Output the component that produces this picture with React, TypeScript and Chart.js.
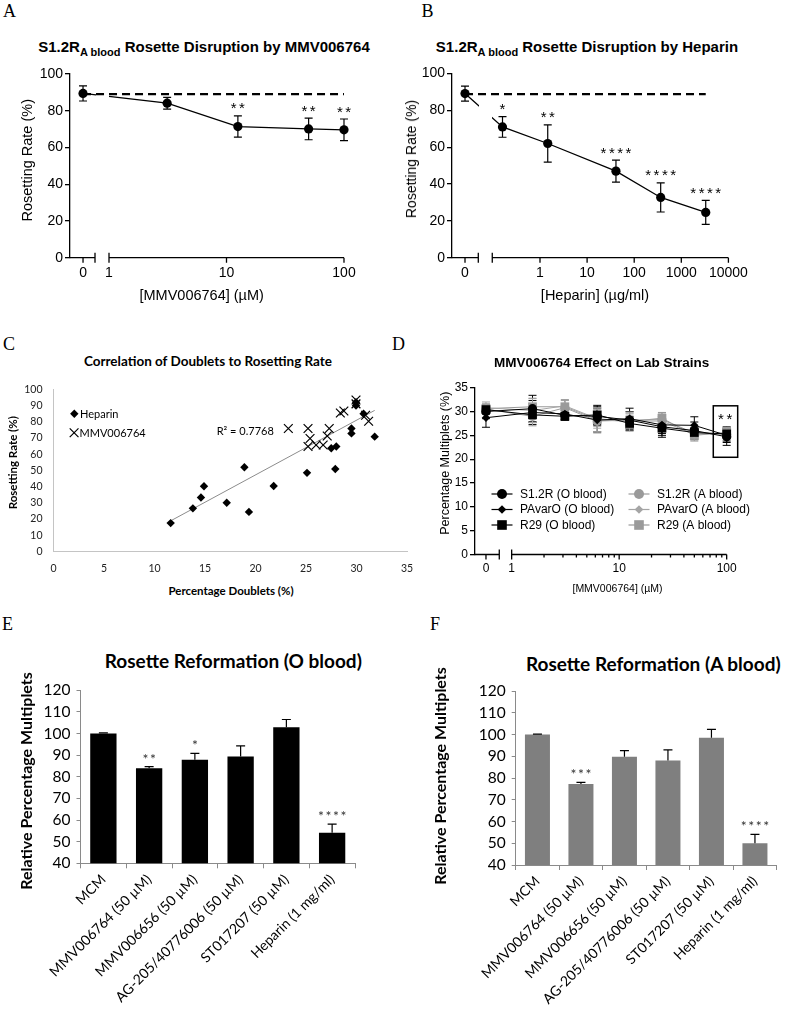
import React, { useEffect, useRef } from 'react';
import { Chart, registerables } from 'chart.js';

Chart.register(...registerables);

const ARIAL = '"Liberation Sans", Arial, sans-serif';
const CALIBRI = 'Lato, "Open Sans", sans-serif';
const SERIF = '"Liberation Serif", "Times New Roman", serif';

// ---------------- Panel A : MMV006764 dose response ----------------
const A_DOSE = [0, 3.125, 12.5, 50, 100];
const A_RATE = [89.4, 84.1, 71.4, 70.1, 69.6];
const A_SEM = [4.1, 3.2, 5.8, 5.9, 5.9];
const A_SIG = ['', '', '**', '**', '**'];
const A_CONTROL = 89.0;
const A_MAJOR = [1, 10, 100];
const A_TICK_LABELS = ['0', '1', '10', '100'];

// ---------------- Panel B : Heparin dose response ----------------
const B_DOSE = [0, 0.16, 1.46, 41, 365, 3300];
const B_RATE = [89.1, 71.0, 62.0, 47.0, 32.7, 24.6];
const B_SEM = [4.1, 5.6, 10.1, 6.0, 7.9, 6.5];
const B_SIG = ['', '*', '**', '****', '****', '****'];
const B_CONTROL = 88.8;
const B_MAJOR = [1, 10, 100, 1000, 10000];
const B_TICK_LABELS = ['0', '1', '10', '100', '1000', '10000'];

// ---------------- Panel C : correlation scatter ----------------
const C_HEP_X = [11.6, 13.8, 14.6, 14.9, 17.15, 18.9, 19.35, 21.8, 25.1, 27.9, 27.5, 28.0, 29.5, 29.5, 31.8, 29.95, 29.95, 30.7];
const C_HEP_Y = [17.5, 26.6, 33.3, 40.2, 30.1, 51.9, 24.4, 40.4, 48.5, 50.9, 63.7, 64.7, 75.8, 72.8, 70.8, 92.0, 90.0, 84.9];
const C_MMV_X = [23.25, 25.2, 25.2, 25.4, 26.0, 26.7, 27.1, 27.3, 28.4, 28.75, 29.95, 29.95, 30.9, 31.2];
const C_MMV_Y = [75.8, 75.8, 64.7, 69.7, 65.7, 65.7, 71.2, 75.8, 85.4, 86.6, 93.4, 91.0, 84.0, 80.3];
const C_TREND_X = [11.6, 31.8];
const C_TREND_Y = [18.9, 87.0];
const C_R2 = 'R² = 0.7768';

// ---------------- Panel D : lab strains ----------------
const D_DOSE = [0, 1.5625, 3.125, 6.25, 12.5, 25, 50, 100];
const D_NAMES = ['S1.2R (O blood)', 'PAvarO (O blood)', 'R29 (O blood)', 'S1.2R (A blood)', 'PAvarO (A blood)', 'R29 (A blood)'];
const D_S12R_O = [30.0, 30.6, 29.2, 29.0, 28.2, 26.8, 26.0, 24.7];
const D_PAVARO_O = [28.7, 29.8, 29.5, 28.2, 28.5, 27.2, 27.1, 25.0];
const D_R29_O = [30.4, 29.3, 29.0, 29.3, 27.5, 26.5, 25.6, 25.3];
const D_S12R_A = [30.5, 29.0, 30.8, 28.0, 28.2, 28.3, 25.5, 25.2];
const D_PAVARO_A = [30.8, 30.2, 31.2, 28.5, 28.0, 28.0, 25.2, 25.5];
const D_R29_A = [30.6, 31.0, 31.0, 28.3, 27.9, 28.6, 25.0, 25.6];
const D_S12R_O_SEM = [1.5, 2.8, 1.0, 2.0, 1.8, 2.2, 1.8, 1.8];
const D_PAVARO_O_SEM = [2.0, 2.5, 1.2, 2.5, 2.2, 1.8, 1.8, 1.5];
const D_R29_O_SEM = [1.0, 1.5, 0.8, 2.0, 1.5, 1.5, 1.0, 1.5];
const D_S12R_A_SEM = [1.0, 2.0, 1.5, 2.5, 1.5, 1.5, 1.2, 1.2];
const D_PAVARO_A_SEM = [1.2, 2.5, 1.2, 2.0, 1.5, 1.5, 1.2, 1.2];
const D_R29_A_SEM = [1.0, 1.8, 1.5, 2.5, 2.0, 1.2, 1.2, 1.0];
const D_MAJOR = [1, 10, 100];
const D_MINOR = [2, 3, 4, 5, 6, 7, 8, 9, 20, 30, 40, 50, 60, 70, 80, 90];
const D_TICK_LABELS = ['0', '1', '10', '100'];
const D_SIG = '**';
const D_SIG_DOSE = 100;
const D_BOX_Y = [20.4, 31.2];

// ---------------- Panels E / F : rosette reformation ----------------
const EF_CATEGORIES = ['MCM', 'MMV006764 (50 µM)', 'MMV006656 (50 µM)', 'AG-205/40776006 (50 µM)', 'ST017207 (50 µM)', 'Heparin (1 mg/ml)'];
const E_VALUES = [100, 83.9, 87.9, 89.4, 102.9, 54.1];
const E_ERR = [0.3, 0.8, 2.9, 4.9, 3.6, 4.0];
const E_SIG = ['', '**', '*', '', '', '****'];
const F_VALUES = [100, 77.2, 89.8, 88.0, 98.5, 50.0];
const F_ERR = [0.2, 0.8, 2.8, 4.9, 3.9, 4.1];
const F_SIG = ['', '***', '', '', '', '****'];

// ================= layout (pixels) =================
type Frame = { cx: number; cy: number; cw: number; ch: number; L: number; T: number; R: number; B: number };
const FRAME_A: Frame = { cx: 0, cy: 60, cw: 390, ch: 240, L: 70, T: 74, R: 350, B: 257.7 };
const FRAME_B: Frame = { cx: 390, cy: 60, cw: 397, ch: 240, L: 452, T: 73.5, R: 735, B: 257.7 };
const FRAME_C: Frame = { cx: 0, cy: 372, cw: 425, ch: 210, L: 53.5, T: 386.7, R: 407, B: 551.5 };
const FRAME_D: Frame = { cx: 390, cy: 375, cw: 397, ch: 210, L: 475, T: 387.7, R: 740, B: 554.5 };
const FRAME_E: Frame = { cx: 0, cy: 675, cw: 390, ch: 345, L: 80.5, T: 689, R: 355, B: 863.3 };
const FRAME_F: Frame = { cx: 390, cy: 675, cw: 397, ch: 345, L: 515.7, T: 691, R: 776.7, B: 865 };

type Broken = { min: number; max: number; zeroAt: number; breakEnd: number; breakStart: number; axisEnd: number; minor: number[] };
const AXIS_A: Broken = { min: 0.4656, max: 112.5, zeroAt: 0.601, breakEnd: 0.76, breakStart: 1, axisEnd: 100, minor: [] };
const AXIS_B: Broken = { min: 0.01355, max: 13800, zeroAt: 0.02559, breakEnd: 0.049, breakStart: 0.097, axisEnd: 10000, minor: [] };
const AXIS_D: Broken = { min: 0.456, max: 133, zeroAt: 0.5768, breakEnd: 0.767, breakStart: 1, axisEnd: 100, minor: D_MINOR };

const onAxis = (dose: number, ax: Broken) => (dose === 0 ? ax.zeroAt : dose);

function baseOptions(f: Frame) {
  return {
    responsive: false,
    maintainAspectRatio: false,
    animation: false as const,
    events: [] as any[],
    layout: { padding: { left: 0, top: f.T - f.cy, right: f.cx + f.cw - f.R, bottom: 0 } },
  };
}

function brokenX(f: Frame, ax: Broken, majors: number[], labels: string[], size: number, padding: number) {
  return {
    type: 'logarithmic',
    bounds: 'data',
    min: ax.min,
    max: ax.max,
    afterBuildTicks: (s: any) => {
      s.ticks = [ax.zeroAt, ...majors].map((v) => ({ value: v }));
    },
    afterFit: (s: any) => {
      s.height = f.cy + f.ch - f.B;
    },
    ticks: {
      autoSkip: false,
      maxRotation: 0,
      minRotation: 0,
      padding,
      color: '#000',
      font: { family: ARIAL, size },
      callback: (_v: any, i: number) => labels[i],
    },
    grid: { display: true, drawOnChartArea: false, drawTicks: true, tickLength: 5, color: 'rgba(0,0,0,0)' },
    border: { display: false },
  };
}

function prismY(f: Frame, max: number, step: number, size: number) {
  return {
    type: 'linear',
    min: 0,
    max,
    afterFit: (s: any) => {
      s.width = f.L - f.cx;
    },
    ticks: { stepSize: step, padding: 2, color: '#000', font: { family: ARIAL, size } },
    grid: { display: true, drawOnChartArea: false, drawTicks: true, tickLength: 5, color: '#000', lineWidth: 1.3 },
    border: { display: true, color: '#000', width: 1.3 },
  };
}

// ================= plugins =================
const brokenAxisPlugin = {
  id: 'brokenAxis',
  afterDraw(chart: any, _a: any, o: any) {
    if (!o || !o.axis) return;
    const xs = chart.scales.x;
    const a = chart.chartArea;
    const ctx = chart.ctx;
    const y0 = a.bottom;
    const p = (v: number) => xs.getPixelForValue(v);
    ctx.save();
    ctx.strokeStyle = '#000';
    ctx.lineWidth = o.lineWidth;
    ctx.beginPath();
    ctx.moveTo(a.left - o.lineWidth / 2, y0);
    ctx.lineTo(p(o.axis.breakEnd), y0);
    ctx.moveTo(p(o.axis.breakStart), y0);
    ctx.lineTo(p(o.axis.axisEnd), y0);
    for (const v of [o.axis.breakEnd, o.axis.breakStart]) {
      ctx.moveTo(p(v), y0 - 5);
      ctx.lineTo(p(v), y0 + 5);
    }
    for (const v of [o.axis.zeroAt, ...o.majors]) {
      ctx.moveTo(p(v), y0);
      ctx.lineTo(p(v), y0 + 5);
    }
    for (const v of o.axis.minor) {
      ctx.moveTo(p(v), y0);
      ctx.lineTo(p(v), y0 + 3);
    }
    ctx.stroke();
    ctx.restore();
  },
};

// clears the line inside the axis break (GraphPad style)
const breakGapPlugin = {
  id: 'breakGap',
  afterDatasetDraw(chart: any, args: any, o: any) {
    if (!o || o.index !== args.index) return;
    const xs = chart.scales.x;
    const a = chart.chartArea;
    const x1 = xs.getPixelForValue(o.from) + 0.5;
    const x2 = xs.getPixelForValue(o.to) - 0.5;
    chart.ctx.clearRect(x1, a.top - 10, x2 - x1, a.bottom - a.top + 7);
  },
};

function valueOf(raw: any) {
  return typeof raw === 'number' ? raw : raw.y;
}

function drawErrorBars(chart: any, o: any) {
  const ys = chart.scales.y;
  const ctx = chart.ctx;
  chart.data.datasets.forEach((ds: any, i: number) => {
    const errs = ds.errorBars;
    if (!errs) return;
    const meta = chart.getDatasetMeta(i);
    ctx.save();
    ctx.strokeStyle = ds.errorColor || '#000';
    ctx.lineWidth = o.lineWidth;
    ctx.beginPath();
    meta.data.forEach((el: any, j: number) => {
      const e = errs[j];
      if (!e) return;
      const v = valueOf(ds.data[j]);
      const x = el.x;
      const top = ys.getPixelForValue(v + e);
      const bot = o.upOnly ? ys.getPixelForValue(v) : ys.getPixelForValue(v - e);
      ctx.moveTo(x, top);
      ctx.lineTo(x, bot);
      ctx.moveTo(x - o.cap, top);
      ctx.lineTo(x + o.cap, top);
      if (!o.upOnly) {
        ctx.moveTo(x - o.cap, bot);
        ctx.lineTo(x + o.cap, bot);
      }
    });
    ctx.stroke();
    ctx.restore();
  });
}

const errorBarPlugin = {
  id: 'errorBars',
  beforeDatasetsDraw(chart: any, _a: any, o: any) {
    if (o && o.phase === 'before') drawErrorBars(chart, o);
  },
  afterDatasetsDraw(chart: any, _a: any, o: any) {
    if (o && o.phase === 'after') drawErrorBars(chart, o);
  },
};

function drawStars(ctx: any, text: string, cx: number, cy: number, size: number, spacing: number, family: string, color: string) {
  const n = text.length;
  ctx.save();
  ctx.font = `${size}px ${family}`;
  ctx.fillStyle = color;
  ctx.textAlign = 'center';
  ctx.textBaseline = 'alphabetic';
  for (let i = 0; i < n; i++) ctx.fillText('*', cx + (i - (n - 1) / 2) * spacing, cy + size * 0.57);
  ctx.restore();
}

const sigPlugin = {
  id: 'sigStars',
  afterDatasetsDraw(chart: any, _a: any, o: any) {
    if (!o || !o.size) return;
    const ys = chart.scales.y;
    chart.data.datasets.forEach((ds: any, i: number) => {
      if (!ds.sigLabels) return;
      const meta = chart.getDatasetMeta(i);
      meta.data.forEach((el: any, j: number) => {
        const s = ds.sigLabels[j];
        if (!s) return;
        const v = valueOf(ds.data[j]) + (ds.errorBars ? ds.errorBars[j] : 0);
        drawStars(chart.ctx, s, el.x, ys.getPixelForValue(v) - o.gap, o.size, o.spacing, o.family, o.color);
      });
    });
  },
};

// ---------- marker drawing for custom legends ----------
function marker(ctx: any, style: string, x: number, y: number, r: number, color: string) {
  ctx.save();
  ctx.fillStyle = color;
  ctx.strokeStyle = color;
  ctx.beginPath();
  if (style === 'circle') {
    ctx.arc(x, y, r, 0, Math.PI * 2);
    ctx.fill();
  } else if (style === 'rect') {
    const h = r * Math.SQRT1_2;
    ctx.rect(x - h, y - h, 2 * h, 2 * h);
    ctx.fill();
  } else if (style === 'rectRot') {
    ctx.moveTo(x, y - r);
    ctx.lineTo(x + r, y);
    ctx.lineTo(x, y + r);
    ctx.lineTo(x - r, y);
    ctx.closePath();
    ctx.fill();
  } else if (style === 'crossRot') {
    const h = r * Math.SQRT1_2;
    ctx.lineWidth = 1.2;
    ctx.moveTo(x - h, y - h);
    ctx.lineTo(x + h, y + h);
    ctx.moveTo(x - h, y + h);
    ctx.lineTo(x + h, y - h);
    ctx.stroke();
  }
  ctx.restore();
}

// ================= chart builders =================
function buildDoseChart(f: Frame, ax: Broken, dose: number[], rate: number[], sem: number[], sig: string[], control: number, majors: number[], labels: string[]) {
  const pts = dose.map((d, i) => ({ x: onAxis(d, ax), y: rate[i] }));
  const ctrl = [
    { x: onAxis(dose[0], ax), y: control },
    { x: onAxis(dose[dose.length - 1], ax), y: control },
  ];
  return {
    type: 'line',
    data: {
      datasets: [
        { data: ctrl, borderColor: '#000', borderWidth: 2.3, borderDash: [8, 5], pointRadius: 0, clip: false },
        {
          data: pts,
          borderColor: '#000',
          borderWidth: 1.3,
          pointRadius: 4.6,
          pointBackgroundColor: '#000',
          pointBorderWidth: 0,
          clip: false,
          errorBars: sem,
          sigLabels: sig,
        },
      ],
    },
    options: {
      ...baseOptions(f),
      scales: { x: brokenX(f, ax, majors, labels, 14, 2), y: prismY(f, 100, 20, 14) },
      plugins: {
        legend: { display: false },
        tooltip: { enabled: false },
        brokenAxis: { axis: ax, majors, lineWidth: 1.3 },
        breakGap: { index: 1, from: ax.breakEnd, to: ax.breakStart },
        errorBars: { phase: 'before', lineWidth: 1.2, cap: 4, upOnly: false },
        sigStars: { size: 15, spacing: 8.3, gap: 11, family: ARIAL, color: '#000' },
      },
    },
    plugins: [brokenAxisPlugin, breakGapPlugin, errorBarPlugin, sigPlugin],
  };
}

function buildScatter() {
  const f = FRAME_C;
  const legendPlugin = {
    id: 'cLegend',
    afterDraw(chart: any) {
      const { ctx, chartArea: a } = chart;
      ctx.save();
      marker(ctx, 'rectRot', a.left + 20.8, a.top + 24.5, 4.2, '#000');
      marker(ctx, 'crossRot', a.left + 20.6, a.top + 43.5, 6.2, '#000');
      ctx.font = `11px ${CALIBRI}`;
      ctx.fillStyle = '#000';
      ctx.textBaseline = 'middle';
      ctx.textAlign = 'left';
      ctx.fillText('Heparin', a.left + 26.5, a.top + 24.8);
      ctx.fillText('MMV006764', a.left + 26, a.top + 43.8);
      ctx.fillText(C_R2, a.left + 163.2, a.top + 41.8);
      ctx.restore();
    },
  };
  const tickFont = { family: CALIBRI, size: 10.5 };
  return {
    type: 'scatter',
    data: {
      datasets: [
        {
          data: C_HEP_X.map((x, i) => ({ x, y: C_HEP_Y[i] })),
          pointStyle: 'rectRot',
          pointRadius: 4.2,
          pointBackgroundColor: '#000',
          pointBorderColor: '#000',
          pointBorderWidth: 0,
          clip: false,
        },
        {
          data: C_MMV_X.map((x, i) => ({ x, y: C_MMV_Y[i] })),
          pointStyle: 'crossRot',
          pointRadius: 6.2,
          pointBorderColor: '#000',
          pointBorderWidth: 1.2,
          clip: false,
        },
        {
          data: C_TREND_X.map((x, i) => ({ x, y: C_TREND_Y[i] })),
          showLine: true,
          pointRadius: 0,
          borderColor: '#8c8c8c',
          borderWidth: 1,
        },
      ],
    },
    options: {
      ...baseOptions(f),
      scales: {
        x: {
          type: 'linear',
          min: 0,
          max: 35,
          afterFit: (s: any) => {
            s.height = f.cy + f.ch - f.B;
          },
          ticks: { stepSize: 5, padding: 11, color: '#222', font: tickFont },
          grid: { display: false, drawTicks: false },
          border: { display: true, color: '#c4c4c4', width: 1 },
        },
        y: {
          type: 'linear',
          min: 0,
          max: 100,
          afterFit: (s: any) => {
            s.width = f.L - f.cx;
          },
          ticks: { stepSize: 10, padding: 11, color: '#222', font: tickFont },
          grid: { display: false, drawTicks: false },
          border: { display: true, color: '#c4c4c4', width: 1 },
        },
      },
      plugins: { legend: { display: false }, tooltip: { enabled: false } },
    },
    plugins: [legendPlugin],
  };
}

function buildStrains() {
  const f = FRAME_D;
  const ax = AXIS_D;
  const series = [D_S12R_O, D_PAVARO_O, D_R29_O, D_S12R_A, D_PAVARO_A, D_R29_A];
  const sems = [D_S12R_O_SEM, D_PAVARO_O_SEM, D_R29_O_SEM, D_S12R_A_SEM, D_PAVARO_A_SEM, D_R29_A_SEM];
  const colors = ['#000', '#000', '#000', '#9a9a9a', '#a5a5a5', '#9a9a9a'];
  const styles = ['circle', 'rectRot', 'rect', 'circle', 'rectRot', 'rect'];
  const radii = [4.6, 4.2, 6.2, 4.6, 4.2, 6.2];
  const datasets = series.map((vals, k) => ({
    label: D_NAMES[k],
    data: vals.map((y, i) => ({ x: onAxis(D_DOSE[i], ax), y })),
    borderColor: colors[k],
    borderWidth: 1,
    pointStyle: styles[k],
    pointRadius: radii[k],
    pointBackgroundColor: colors[k],
    pointBorderColor: colors[k],
    pointBorderWidth: 0,
    clip: false,
    errorBars: sems[k],
    errorColor: colors[k],
  }));
  const extras = {
    id: 'dExtras',
    afterDraw(chart: any) {
      const { ctx, chartArea: a } = chart;
      const xs = chart.scales.x;
      const ys = chart.scales.y;
      // legend
      ctx.save();
      ctx.font = `12px ${ARIAL}`;
      ctx.textBaseline = 'middle';
      ctx.textAlign = 'left';
      for (let k = 0; k < 6; k++) {
        const col = k < 3 ? 0 : 1;
        const row = k % 3;
        const y = a.top + 106.3 + row * 15.5;
        const x0 = a.left + (col === 0 ? 16.5 : 153.5);
        ctx.strokeStyle = colors[k];
        ctx.lineWidth = 1.2;
        ctx.beginPath();
        ctx.moveTo(x0, y);
        ctx.lineTo(x0 + 21, y);
        ctx.stroke();
        marker(ctx, styles[k], x0 + 10.5, y, k % 3 === 0 ? 5 : k % 3 === 1 ? 4.3 : 6.8, colors[k]);
        ctx.fillStyle = '#000';
        ctx.fillText(D_NAMES[k], x0 + 28.5, y + 0.5);
      }
      ctx.restore();
      // significance box at the highest dose
      const px = xs.getPixelForValue(D_SIG_DOSE);
      const yTop = ys.getPixelForValue(D_BOX_Y[1]);
      const yBot = ys.getPixelForValue(D_BOX_Y[0]);
      ctx.save();
      ctx.strokeStyle = '#000';
      ctx.lineWidth = 1.5;
      ctx.strokeRect(px - 13.4, yTop, 24.4, yBot - yTop);
      ctx.restore();
      drawStars(ctx, D_SIG, px - 1.5, yTop + 9.5, 15, 8.3, ARIAL, '#000');
    },
  };
  return {
    type: 'line',
    data: { datasets },
    options: {
      ...baseOptions(f),
      scales: { x: brokenX(f, ax, D_MAJOR, D_TICK_LABELS, 12, 2.3), y: prismY(f, 35, 5, 12) },
      plugins: {
        legend: { display: false },
        tooltip: { enabled: false },
        brokenAxis: { axis: ax, majors: D_MAJOR, lineWidth: 1.3 },
        errorBars: { phase: 'before', lineWidth: 1, cap: 4, upOnly: false },
      },
    },
    plugins: [brokenAxisPlugin, errorBarPlugin, extras],
  };
}

function buildBars(f: Frame, values: number[], errs: number[], sig: string[], color: string) {
  const axisGray = '#8a8a8a';
  return {
    type: 'bar',
    data: {
      labels: EF_CATEGORIES,
      datasets: [
        {
          data: values,
          backgroundColor: color,
          borderWidth: 0,
          categoryPercentage: 1,
          barPercentage: 0.575,
          errorBars: errs,
          sigLabels: sig,
        },
      ],
    },
    options: {
      ...baseOptions(f),
      scales: {
        x: {
          type: 'category',
          offset: true,
          afterFit: (s: any) => {
            s.height = f.cy + f.ch - f.B;
          },
          ticks: {
            autoSkip: false,
            maxRotation: 45,
            minRotation: 45,
            padding: 3,
            color: '#000',
            font: { family: CALIBRI, size: 14 },
          },
          grid: { display: true, drawOnChartArea: false, offset: true, drawTicks: true, tickLength: 5, color: axisGray, lineWidth: 1 },
          border: { display: true, color: axisGray, width: 1 },
        },
        y: {
          type: 'linear',
          min: 40,
          max: 120,
          afterFit: (s: any) => {
            s.width = f.L - f.cx;
          },
          ticks: { stepSize: 10, padding: 6, color: '#000', font: { family: CALIBRI, size: 15.5 } },
          grid: { display: true, drawOnChartArea: false, drawTicks: true, tickLength: 4, color: axisGray, lineWidth: 1 },
          border: { display: true, color: axisGray, width: 1 },
        },
      },
      plugins: {
        legend: { display: false },
        tooltip: { enabled: false },
        errorBars: { phase: 'after', lineWidth: 1.2, cap: 4.5, upOnly: true },
        sigStars: { size: 14, spacing: 7.5, gap: 11, family: CALIBRI, color: '#333' },
      },
    },
    plugins: [errorBarPlugin, sigPlugin],
  };
}

// ================= components =================
function ChartCanvas({ frame, build }: { frame: Frame; build: () => any }) {
  const ref = useRef<HTMLCanvasElement | null>(null);
  useEffect(() => {
    if (!ref.current) return;
    const chart = new Chart(ref.current, build() as any);
    return () => chart.destroy();
  }, []);
  return (
    <canvas
      ref={ref}
      width={frame.cw}
      height={frame.ch}
      style={{ position: 'absolute', left: frame.cx, top: frame.cy, width: frame.cw, height: frame.ch }}
    />
  );
}

type TProps = {
  x: number;
  y: number;
  size: number;
  family: string;
  bold?: boolean;
  align?: 'left' | 'center' | 'right';
  rotate?: boolean;
  children: React.ReactNode;
};

function T({ x, y, size, family, bold, align = 'center', rotate, children }: TProps) {
  const tx = align === 'center' ? '-50%' : align === 'right' ? '-100%' : '0';
  const style: React.CSSProperties = {
    position: 'absolute',
    left: x,
    top: y - size / 2,
    fontSize: size,
    lineHeight: `${size}px`,
    fontFamily: family,
    fontWeight: bold ? 700 : 400,
    whiteSpace: 'nowrap',
    color: '#000',
    transform: rotate ? 'translate(-50%, 0) rotate(-90deg)' : `translateX(${tx})`,
  };
  return <div style={style}>{children}</div>;
}

const subStyle: React.CSSProperties = { fontSize: 11, position: 'relative', top: 4 };

export default function App() {
  return (
    <div style={{ position: 'absolute', left: 0, top: 0, width: 787, height: 1020, background: '#fff', overflow: 'hidden' }}>
      <ChartCanvas frame={FRAME_A} build={() => buildDoseChart(FRAME_A, AXIS_A, A_DOSE, A_RATE, A_SEM, A_SIG, A_CONTROL, A_MAJOR, A_TICK_LABELS)} />
      <ChartCanvas frame={FRAME_B} build={() => buildDoseChart(FRAME_B, AXIS_B, B_DOSE, B_RATE, B_SEM, B_SIG, B_CONTROL, B_MAJOR, B_TICK_LABELS)} />
      <ChartCanvas frame={FRAME_C} build={buildScatter} />
      <ChartCanvas frame={FRAME_D} build={buildStrains} />
      <ChartCanvas frame={FRAME_E} build={() => buildBars(FRAME_E, E_VALUES, E_ERR, E_SIG, '#000')} />
      <ChartCanvas frame={FRAME_F} build={() => buildBars(FRAME_F, F_VALUES, F_ERR, F_SIG, '#7f7f7f')} />

      {/* panel letters */}
      <T x={3} y={11} size={18} family={SERIF} align="left">A</T>
      <T x={421.5} y={11} size={18} family={SERIF} align="left">B</T>
      <T x={3} y={343.5} size={18} family={SERIF} align="left">C</T>
      <T x={392} y={343.5} size={18} family={SERIF} align="left">D</T>
      <T x={2} y={624} size={18} family={SERIF} align="left">E</T>
      <T x={430} y={624} size={18} family={SERIF} align="left">F</T>

      {/* panel A */}
      <T x={204} y={46} size={15} family={ARIAL} bold>
        S1.2R<span style={subStyle}>A blood</span> Rosette Disruption by MMV006764
      </T>
      <T x={27} y={160} size={14.5} family={ARIAL} rotate>Rosetting Rate (%)</T>
      <T x={201.7} y={295} size={14.5} family={ARIAL}>[MMV006764] (µM)</T>

      {/* panel B */}
      <T x={587} y={46} size={15} family={ARIAL} bold>
        S1.2R<span style={subStyle}>A blood</span> Rosette Disruption by Heparin
      </T>
      <T x={411} y={159} size={14} family={ARIAL} rotate>Rosetting Rate (%)</T>
      <T x={595} y={295} size={14.5} family={ARIAL}>[Heparin] (µg/ml)</T>

      {/* panel C */}
      <T x={208} y={361.7} size={13.5} family={CALIBRI} bold>Correlation of Doublets to Rosetting Rate</T>
      <T x={12.5} y={463} size={11.5} family={CALIBRI} bold rotate>Rosetting Rate (%)</T>
      <T x={231} y={591} size={11.5} family={CALIBRI} bold>Percentage Doublets (%)</T>

      {/* panel D */}
      <T x={601.7} y={363} size={13.5} family={ARIAL} bold>MMV006764 Effect on Lab Strains</T>
      <T x={445} y={463} size={12.5} family={ARIAL} rotate>Percentage Multiplets (%)</T>
      <T x={617.5} y={588.3} size={10.5} family={ARIAL}>[MMV006764] (µM)</T>

      {/* panel E */}
      <T x={233.3} y={660.7} size={19} family={CALIBRI} bold>Rosette Reformation (O blood)</T>
      <T x={25.5} y={781} size={16} family={CALIBRI} bold rotate>Relative Percentage Multiplets</T>

      {/* panel F */}
      <T x={653.3} y={663.3} size={19} family={CALIBRI} bold>Rosette Reformation (A blood)</T>
      <T x={440} y={776} size={16} family={CALIBRI} bold rotate>Relative Percentage Multiplets</T>
    </div>
  );
}
